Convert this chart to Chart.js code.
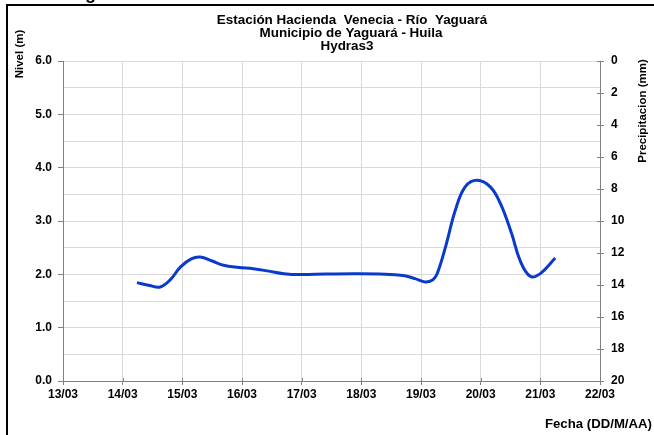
<!DOCTYPE html>
<html>
<head>
<meta charset="utf-8">
<script src="https://cdn.jsdelivr.net/npm/chart.js@4/dist/chart.umd.min.js"></script>
<style>
html,body{margin:0;padding:0;background:#fff;}
#wrap{width:654px;height:435px;position:relative;}
</style>
</head>
<body>
<div id="wrap"><canvas id="c" width="654" height="435"></canvas></div>
<script>
// Data (x = days since 13/03 00:00, y = level in m)
const etiquetasFecha = ['13/03','14/03','15/03','16/03','17/03','18/03','19/03','20/03','21/03','22/03'];
const diasMedicion = [1.24,1.45,1.63,1.80,1.97,2.15,2.30,2.50,2.69,2.95,3.19,3.45,3.70,3.98,4.40,4.87,5.30,5.70,5.90,6.07,6.20,6.27,6.41,6.575,6.74,6.94,7.16,7.33,7.52,7.66,7.83,8.00,8.25];
const nivelM = [1.845,1.79,1.763,1.90,2.14,2.29,2.325,2.25,2.17,2.13,2.105,2.06,2.013,1.995,2.005,2.01,2.005,1.98,1.92,1.856,1.90,2.01,2.51,3.20,3.64,3.763,3.64,3.33,2.76,2.26,1.963,2.014,2.306];
const tituloLineas = ['Estación Hacienda  Venecia - Río  Yaguará','Municipio de Yaguará - Huila','Hydras3'];

const puntos = diasMedicion.map((d,i)=>({x:d,y:nivelM[i]}));
const FONT = '"Liberation Sans", Arial, sans-serif';

function stretchedText(ctx, text, x, y, sx){
  ctx.save();
  ctx.translate(x,y);
  ctx.scale(sx,1);
  ctx.fillText(text,0,0);
  ctx.restore();
}

const decor = {
  id:'decor',
  afterDraw(chart){
    const ctx = chart.ctx;
    ctx.save();
    // frame
    ctx.fillStyle = '#000';
    ctx.fillRect(6,4,648,2);
    ctx.fillRect(6,4,2,431);
    // partial letter at top
    ctx.font = 'bold 18px ' + FONT;
    ctx.textAlign = 'left';
    ctx.textBaseline = 'alphabetic';
    ctx.fillText('g',85,-1);
    // title
    ctx.font = 'bold 12px ' + FONT;
    ctx.textAlign = 'center';
    ctx.textBaseline = 'alphabetic';
    stretchedText(ctx,tituloLineas[0],352,24,1.12);
    stretchedText(ctx,tituloLineas[1],351,37,1.12);
    stretchedText(ctx,tituloLineas[2],347,49.5,1.12);
    // x title
    ctx.textAlign = 'right';
    ctx.textBaseline = 'middle';
    stretchedText(ctx,'Fecha (DD/M/AA)',652,425,1.1);
    // left axis title
    ctx.font = 'bold 11.5px ' + FONT;
    ctx.save();
    ctx.translate(20,54);
    ctx.rotate(-Math.PI/2);
    ctx.textAlign = 'center';
    ctx.fillText('Nivel (m)',0,0);
    ctx.restore();
    // right axis title
    ctx.save();
    ctx.translate(643,111);
    ctx.rotate(-Math.PI/2);
    ctx.textAlign = 'center';
    ctx.fillText('Precipitacion (mm)',0,0);
    ctx.restore();
    // inner tick marks (crossing)
    ctx.strokeStyle = '#808080';
    ctx.lineWidth = 1;
    const xs = chart.scales.x, y2 = chart.scales.y2;
    const ca = chart.chartArea;
    for (let i=0;i<=9;i++){
      const px = Math.round(xs.getPixelForValue(i))+0.5;
      ctx.beginPath(); ctx.moveTo(px,ca.bottom-3); ctx.lineTo(px,ca.bottom); ctx.stroke();
    }
    for (let v=0; v<=20; v+=2){
      const py = Math.round(y2.getPixelForValue(v))+0.5;
      ctx.beginPath(); ctx.moveTo(ca.right-3,py); ctx.lineTo(ca.right,py); ctx.stroke();
    }
    ctx.restore();
  }
};

new Chart(document.getElementById('c'), {
  type:'line',
  data:{
    datasets:[{
      label:'Nivel',
      data:puntos,
      borderColor:'#0a3acc',
      borderWidth:3,
      pointRadius:0,
      tension:0.4,
      fill:false,
      yAxisID:'y'
    }]
  },
  options:{
    responsive:false,
    animation:false,
    devicePixelRatio:1,
    layout:{padding:{top:61,left:0,right:0,bottom:0}},
    plugins:{legend:{display:false},tooltip:{enabled:false},title:{display:false}},
    scales:{
      x:{
        type:'linear', min:0, max:9,
        ticks:{stepSize:1, autoSkip:false, maxRotation:0, padding:2, color:'#000',
          font:{family:FONT, size:12, weight:'bold'},
          callback:(v)=>etiquetasFecha[v] ?? ''},
        grid:{color:'#d9d9d9', tickColor:'#808080', tickLength:4},
        border:{color:'#808080'},
        afterFit:(s)=>{s.height=54;}
      },
      y:{
        position:'left', min:0, max:6,
        ticks:{stepSize:0.5, autoSkip:false, padding:6, color:'#000',
          font:{family:FONT, size:12, weight:'bold'},
          callback:(v)=>Number.isInteger(v)? v.toFixed(1) : ''},
        grid:{color:'#d9d9d9', tickLength:5,
          tickColor:(c)=> (c.tick && Number.isInteger(c.tick.value)) ? '#808080' : 'rgba(0,0,0,0)'},
        border:{color:'#808080'},
        afterFit:(s)=>{s.width=63;}
      },
      y2:{
        position:'right', min:0, max:20, reverse:true,
        ticks:{stepSize:2, autoSkip:false, padding:7, color:'#000',
          font:{family:FONT, size:12, weight:'bold'}},
        grid:{drawOnChartArea:false, tickColor:'#808080', tickLength:4},
        border:{color:'#808080'},
        afterFit:(s)=>{s.width=54;}
      }
    }
  },
  plugins:[decor]
});
</script>
</body>
</html>
